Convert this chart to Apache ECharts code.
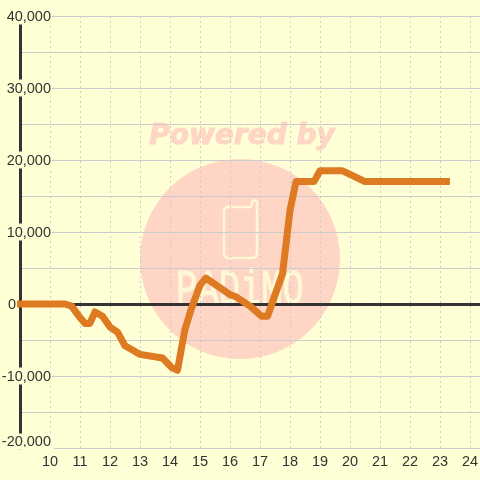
<!DOCTYPE html>
<html><head><meta charset="utf-8">
<script src="https://cdn.jsdelivr.net/npm/echarts@6/dist/echarts.min.js"></script>
<style>html,body{margin:0;padding:0;background:#FFFFD5}#c{width:480px;height:480px}</style>
</head><body><div id="c"></div>
<script>
const hours = [8.9,10.5,10.72,11,11.17,11.33,11.5,11.75,12,12.25,12.5,12.75,13,13.75,14.05,14.25,14.5,14.7,15,15.2,16,16.2,16.67,17.05,17.25,17.75,18,18.2,18.8,19,19.75,20,20.5,23.33];
const profit = [0,0,-300,-1900,-2700,-2700,-1100,-1700,-3200,-3900,-5800,-6400,-7000,-7500,-8800,-9200,-3500,-800,2600,3600,1300,1000,-300,-1700,-1700,4200,13000,17000,17000,18500,18500,18000,17000,17000];
const yTickMin = -20000, yTickMax = 40000, yTickStep = 5000, yLabelStep = 10000;
const pairs = hours.map((h,i)=>[h,profit[i]]);
const bg = '#FFFFD5', wm = '#FFD5C5', cream = '#FFF8D5', ink = '#333333', grid = '#CCCCCC', lineC = '#DE7A22';
const fnt = '"Liberation Sans", Arial, sans-serif';
const fs = 14.5;
const phone = [[227,207],[250,207],[252,205],[252,202],[254,200],[255,200],[257,202],[257,255],[254,258],[227,258],[224,255],[224,210]];
const chart = echarts.init(document.getElementById('c'), null, {renderer:'canvas'});
chart.setOption({
  animation:false,
  backgroundColor:bg,
  grid:{left:20,right:0,top:16,bottom:32,containLabel:false,outerBoundsMode:'none'},
  graphic:[
    {type:'circle',z:-10,silent:true,shape:{cx:240,cy:259,r:100},style:{fill:wm}},
    {type:'text',z:-10,silent:true,x:242,y:137,style:{text:'Powered by',fill:wm,stroke:wm,lineWidth:1,font:'italic bold 28px "DejaVu Sans"',align:'center',verticalAlign:'middle'}},
    {type:'polygon',z:-9,silent:true,shape:{points:phone},style:{fill:'none',stroke:cream,lineWidth:2.5,lineJoin:'round'}},
    {type:'text',z:-9,silent:true,x:240,y:291,scaleX:0.71,originX:0,originY:0,style:{text:'PADiMO',fill:cream,stroke:cream,lineWidth:1,font:'50px "Liberation Mono"',align:'center',verticalAlign:'middle'}},
    {type:'rect',z:5,silent:true,shape:{x:0,y:447,width:54,height:2},style:{fill:bg}}
  ],
  xAxis:{type:'value',min:9,max:24.3333,interval:1,
    axisLine:{show:false},axisTick:{show:false},
    axisLabel:{color:ink,fontFamily:fnt,fontSize:fs,margin:6,showMaxLabel:false,hideOverlap:false,
      formatter:v=>(Number.isInteger(v)&&v>=10)?String(v):''},
    splitLine:{show:true,lineStyle:{color:grid,type:[2,3],width:1}}},
  yAxis:{type:'value',min:yTickMin,max:yTickMax,interval:yTickStep,
    axisLine:{show:true,onZero:false,lineStyle:{color:ink,width:3}},axisTick:{show:false},
    axisLabel:{align:'right',margin:-32,color:ink,fontFamily:fnt,fontSize:fs,hideOverlap:false,verticalAlignMinLabel:'bottom',
      formatter:v=>{
        if(v%yLabelStep!==0) return '';
        const s=v.toLocaleString('en-US');
        if(v===0) return '{z|'+s+'}';
        if(v===yTickMin) return '{b|'+s+'}';
        return '{a|'+s+'}';
      },
      rich:{
        a:{backgroundColor:bg,color:ink,fontFamily:fnt,fontSize:fs,padding:[2,1,0,1],lineHeight:14},
        b:{backgroundColor:bg,color:ink,fontFamily:fnt,fontSize:fs,padding:[1,1,0,1],lineHeight:13},
        z:{color:ink,fontFamily:fnt,fontSize:fs,padding:[2,36,0,0]}
      }},
    splitLine:{show:true,lineStyle:{color:grid,width:1}}},
  series:[{type:'line',data:pairs,showSymbol:false,symbol:'none',clip:false,z:3,
    lineStyle:{color:lineC,width:7,cap:'butt',join:'round'},
    markLine:{silent:true,symbol:'none',z:1,animation:false,label:{show:false},
      lineStyle:{color:ink,width:3,type:'solid'},data:[{yAxis:0}]}}]
});
</script></body></html>
